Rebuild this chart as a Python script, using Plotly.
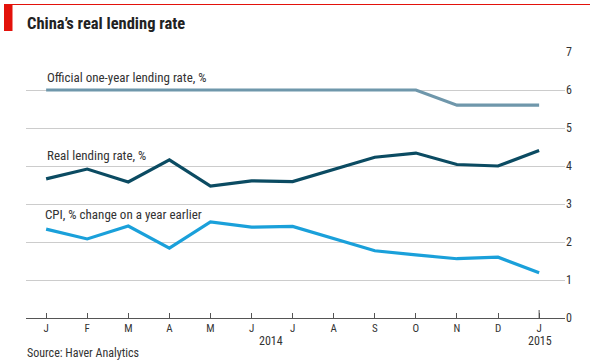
import plotly.graph_objects as go

months = ["J", "F", "M", "A", "M", "J", "J", "A", "S", "O", "N", "D", "J"]
official = [6.0, 6.0, 6.0, 6.0, 6.0, 6.0, 6.0, 6.0, 6.0, 6.0, 5.6, 5.6, 5.6]
real = [3.66, 3.92, 3.58, 4.16, 3.47, 3.61, 3.59, 3.9, 4.23, 4.34, 4.04, 4.0, 4.41]
cpi = [2.34, 2.08, 2.42, 1.84, 2.53, 2.39, 2.41, 2.1, 1.77, 1.66, 1.56, 1.6, 1.19]
yticks = [0, 1, 2, 3, 4, 5, 6, 7]

FONT = "Roboto Condensed, Liberation Sans Narrow, DejaVu Sans Condensed, sans-serif"
x = list(range(len(months)))

fig = go.Figure()
fig.add_trace(go.Scatter(x=x, y=official, mode="lines",
                         line=dict(color="#6f97ab", width=3.2), hoverinfo="skip"))
fig.add_trace(go.Scatter(x=x, y=real, mode="lines",
                         line=dict(color="#0b4b62", width=3.2), hoverinfo="skip"))
fig.add_trace(go.Scatter(x=x, y=cpi, mode="lines",
                         line=dict(color="#1aa0da", width=3.2), hoverinfo="skip"))

W, H = 590, 360
L, R, T, B = 26, 25, 52, 42
pw, ph = W - L - R, H - T - B

def px_x(p):
    return (p - L) / pw

def px_y(p):
    return (H - B - p) / ph

fig.update_layout(
    width=W, height=H,
    margin=dict(l=L, r=R, t=T, b=B),
    paper_bgcolor="white", plot_bgcolor="white",
    showlegend=False,
    font=dict(family=FONT, color="#333333"),
    xaxis=dict(
        range=[-0.49, 12.63],
        tickmode="array", tickvals=x, ticktext=months,
        ticks="inside", ticklen=5, tickcolor="#555555", tickwidth=1,
        showgrid=False, zeroline=False,
        showline=True, linecolor="#555555", linewidth=1,
        tickfont=dict(size=11, color="#333333"),
        fixedrange=True,
    ),
    yaxis=dict(
        range=[0, 7], side="right",
        tickmode="array", tickvals=yticks, ticktext=[str(v) for v in yticks],
        showgrid=True, gridcolor="#cccccc", gridwidth=1,
        zeroline=False, ticks="", showline=False,
        tickfont=dict(size=12, color="#333333"),
        fixedrange=True,
    ),
)

shapes = [
    dict(type="rect", xref="paper", yref="paper",
         x0=px_x(4), x1=px_x(12.5), y0=px_y(31), y1=px_y(4),
         fillcolor="#e3120b", line=dict(width=0)),
    dict(type="line", xref="paper", yref="paper",
         x0=px_x(12), x1=px_x(590), y0=px_y(4.5), y1=px_y(4.5),
         line=dict(color="#e3120b", width=1)),
    dict(type="line", xref="x", yref="paper",
         x0=12, x1=12, y0=0, y1=px_y(310),
         line=dict(color="#555555", width=1)),
]
fig.update_layout(shapes=shapes)

ann = [
    dict(text="<b>China’s real lending rate</b>", x=px_x(25), y=px_y(24),
         xanchor="left", yanchor="middle", font=dict(size=16.5, color="#222222")),
    dict(text="Official one-year lending rate, %", x=px_x(45), y=px_y(77),
         xanchor="left", yanchor="middle", font=dict(size=13)),
    dict(text="Real lending rate, %", x=px_x(45), y=px_y(155),
         xanchor="left", yanchor="middle", font=dict(size=13)),
    dict(text="CPI, % change on a year earlier", x=px_x(43), y=px_y(214),
         xanchor="left", yanchor="middle", font=dict(size=13)),
    dict(text="2014", x=px_x(271), y=px_y(341),
         xanchor="center", yanchor="middle", font=dict(size=12)),
    dict(text="2015", x=px_x(540), y=px_y(341),
         xanchor="center", yanchor="middle", font=dict(size=12)),
    dict(text="Source: Haver Analytics", x=px_x(25), y=px_y(353),
         xanchor="left", yanchor="middle", font=dict(size=12)),
]
for a in ann:
    a.update(xref="paper", yref="paper", showarrow=False)
fig.update_layout(annotations=ann)

fig.write_html("out.html", config={"displayModeBar": False},
               post_script="document.body.style.margin='0';document.body.style.padding='0';")
